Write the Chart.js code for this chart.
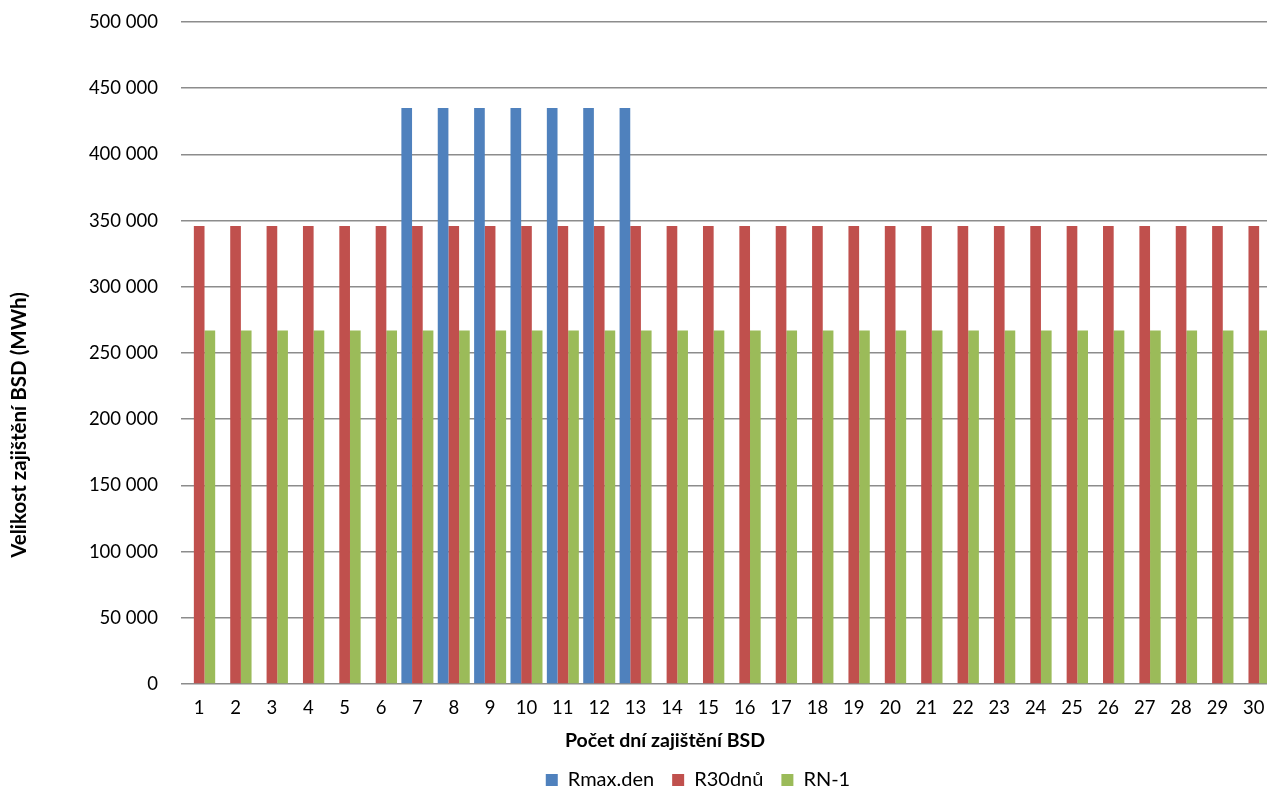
<!DOCTYPE html>
<html>
<head>
<meta charset="utf-8">
<script src="https://cdn.jsdelivr.net/npm/chart.js@4"></script>
<style>
html, body { margin: 0; padding: 0; background: #fff; overflow: hidden; }
#wrap { width: 1267px; height: 792px; overflow: hidden; position: relative; }
#box { width: 1396px; height: 800px; position: absolute; left: 0; top: 0; }
</style>
</head>
<body>
<div id="wrap"><div id="box"><canvas id="chart"></canvas></div></div>
<script>
// Categories (days)
const days = ['1', '2', '3', '4', '5', '6', '7', '8', '9', '10',
              '11', '12', '13', '14', '15', '16', '17', '18', '19', '20',
              '21', '22', '23', '24', '25', '26', '27', '28', '29', '30'];

// Series values (MWh)
const rmaxDen = [null, null, null, null, null, null, 435000, 435000, 435000, 435000,
                 435000, 435000, 435000, null, null, null, null, null, null, null,
                 null, null, null, null, null, null, null, null, null, null];
const r30dnu = [346000, 346000, 346000, 346000, 346000, 346000, 346000, 346000, 346000, 346000,
                346000, 346000, 346000, 346000, 346000, 346000, 346000, 346000, 346000, 346000,
                346000, 346000, 346000, 346000, 346000, 346000, 346000, 346000, 346000, 346000];
const rn1 = [267000, 267000, 267000, 267000, 267000, 267000, 267000, 267000, 267000, 267000,
             267000, 267000, 267000, 267000, 267000, 267000, 267000, 267000, 267000, 267000,
             267000, 267000, 267000, 267000, 267000, 267000, 267000, 267000, 267000, 267000];

const seriesNames = ['Rmax.den', 'R30dnů', 'RN-1'];
const xTitle = 'Počet dní zajištění BSD';
const yTitle = 'Velikost zajištění BSD (MWh)';

const FONT = 'Lato';

// thousands with a space, like "350 000"
function fmt(v) {
    return String(v).replace(/\B(?=(\d{3})+(?!\d))/g, ' ');
}

// axis titles sit off-centre in the original, so draw them here
const axisTitles = {
    id: 'axisTitles',
    afterDraw(chart) {
        const ctx = chart.ctx;
        ctx.save();
        ctx.fillStyle = '#000';
        ctx.textAlign = 'center';
        ctx.textBaseline = 'middle';
        ctx.font = 'bold 19.5px ' + FONT;
        ctx.fillText(xTitle, 665, 741);
        ctx.font = 'bold 20.5px ' + FONT;
        ctx.translate(19, 425);
        ctx.rotate(-Math.PI / 2);
        ctx.fillText(yTitle, 0, 0);
        ctx.restore();
    }
};

const data = {
    labels: days,
    datasets: [{
        label: seriesNames[0],
        backgroundColor: '#4F81BD',
        data: rmaxDen
    },
    {
        label: seriesNames[1],
        backgroundColor: '#C0504D',
        data: r30dnu
    },
    {
        label: seriesNames[2],
        backgroundColor: '#9BBB59',
        data: rn1
    }]
};

const config = {
    type: 'bar',
    data: data,
    options: {
        responsive: true,
        maintainAspectRatio: false,
        animation: false,
        datasets: {
            bar: { categoryPercentage: 0.88, barPercentage: 1.0 }
        },
        layout: { padding: { top: 22, left: 0, right: 0, bottom: 0 } },
        scales: {
            x: {
                grid: { display: false, drawTicks: false },
                border: { display: false },
                ticks: { color: '#000', font: { family: FONT, size: 18.5 }, padding: 13, maxRotation: 0, autoSkip: false },
                afterFit: s => { s.height = 68; }
            },
            y: {
                min: 0,
                max: 500000,
                ticks: { stepSize: 50000, color: '#000', font: { family: FONT, size: 18.5 }, padding: 23, callback: v => fmt(v) },
                grid: { color: '#8C8C8C', lineWidth: 1.5, drawTicks: false },
                border: { display: false },
                afterFit: s => { s.width = 181; s.paddingTop = 0; s.paddingBottom = 0; }
            },
            // empty spacer on the right, the plot runs off the edge
            yRight: {
                position: 'right',
                display: true,
                grid: { display: false },
                border: { display: false },
                ticks: { display: false },
                afterFit: s => { s.width = 124; s.paddingTop = 0; s.paddingBottom = 0; }
            }
        },
        plugins: {
            legend: {
                position: 'bottom',
                labels: { color: '#000', font: { family: FONT, size: 20 }, boxWidth: 12, boxHeight: 12, padding: 18 }
            },
            tooltip: { enabled: false }
        }
    },
    plugins: [axisTitles]
};

const theChart = new Chart(document.getElementById('chart').getContext('2d'), config);
</script>
</body>
</html>
